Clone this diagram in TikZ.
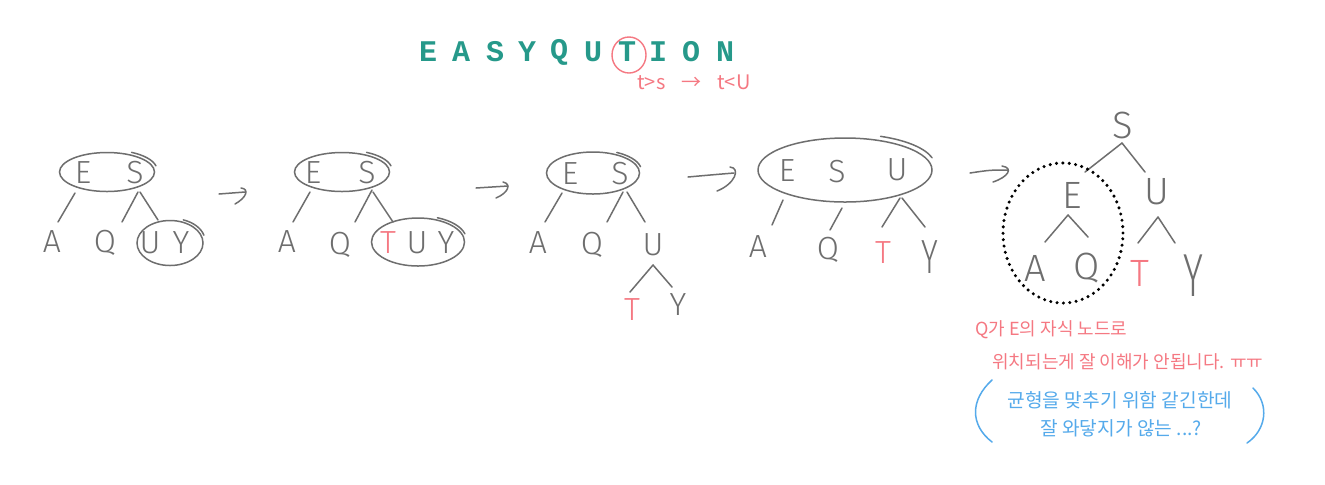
\documentclass[tikz,border=0pt]{standalone}
\usepackage{fontspec}
\setmainfont{Liberation Sans}
\newfontfamily\hand{Fira Sans Light}
\newfontfamily\kr{Noto Sans CJK KR}
\newfontfamily\titlefont{Liberation Mono}
\usetikzlibrary{shapes.geometric}
\definecolor{pen}{HTML}{6E6E6E}
\definecolor{titlec}{HTML}{26998A}
\definecolor{pinkc}{HTML}{F57882}
\definecolor{bluec}{HTML}{55AAEB}
\begin{document}
\begin{tikzpicture}[x=0.5pt,y=-0.5pt,
  lt/.style={font=\hand\fontsize{16}{19}\selectfont, text=pen, inner sep=0pt},
  bt/.style={font=\hand\fontsize{19}{22}\selectfont, text=pen, inner sep=0pt},
  br/.style={draw=pen, line width=0.75pt, line cap=round, line join=round},
  ell/.style={ellipse, draw=pen, line width=0.75pt, inner sep=0pt},
  ttl/.style={font=\titlefont\fontsize{15}{17}\selectfont, text=titlec, inner sep=0pt},
  kpink/.style={font=\kr\fontsize{9}{11}\selectfont, text=pinkc, inner sep=0pt, anchor=west},
  kblue/.style={font=\kr\fontsize{9.6}{11}\selectfont, text=bluec, inner sep=0pt},
  pinkline/.style={draw=pinkc, line width=0.7pt, line cap=round},
  blueline/.style={draw=bluec, line width=0.75pt, line cap=round}]
\fill[white] (0,0) rectangle (1325,484);
\useasboundingbox (0,0) rectangle (1325,484);

% title
\foreach \l/\xx [count=\i] in {E/428,A/461,S/495,Y/527,Q/559,U/593,T/627,I/658,O/691,N/725}
  \node[ttl] (t\i) at (\xx,52) {\textbf{\l}};
\node[ellipse, pinkline, minimum width=17pt, minimum height=18pt, inner sep=0pt] (tc) at (629,55) {};
\node[font=\kr\fontsize{10}{12}\selectfont, text=pinkc, inner sep=0pt, anchor=west] (tnote) at (637,82) {t>s\hspace{8pt}→\hspace{8pt}t<U};

% ---------- tree 1
\node[ell, minimum width=47.5pt, minimum height=19.5pt] (e1) at (107,172) {};
\draw[br] ([shift={(2,-2)}]e1.center) ++(-62:48 and 20) arc[start angle=-62, end angle=-12, x radius=48, y radius=20];
\node[lt] (E1) at (83,173) {E};
\node[lt] (S1) at (135,173) {S};
\node[lt] (A1) at (52,242) {A};
\node[lt] (Q1) at (105,243) {Q};
\node[ell, minimum width=33pt, minimum height=22.5pt] (u1) at (170,243) {};
\draw[br] ([shift={(2,-2)}]u1.center) ++(-70:33 and 22.5) arc[start angle=-70, end angle=-15, x radius=33, y radius=22.5];
\node[lt] (U1) at (150,243) {U};
\node[lt] (Y1) at (181,243) {Y};
\draw[br] ([shift={(-32,21)}]e1.center) -- ([shift={(6,-20)}]A1.center);
\draw[br] ([shift={(31,20)}]e1.center) -- ([shift={(17,-21)}]Q1.center);
\draw[br] ([shift={(33,20)}]e1.center) -- ([shift={(-12,-23)}]u1.center);

% arrow 1
\coordinate (a1s) at (219,194);
\coordinate (a1e) at (245,192);
\coordinate (a1t) at (241,188);
\coordinate (a1h) at (235,204);
\draw[br] (a1s) -- (a1e);
\draw[br] (a1t) .. controls (250,189) and (246,198) .. (a1h);

% ---------- tree 2
\node[ell, minimum width=47.5pt, minimum height=19.5pt] (e2) at (342,172) {};
\draw[br] ([shift={(2,-2)}]e2.center) ++(-62:48 and 20) arc[start angle=-62, end angle=-12, x radius=48, y radius=20];
\node[lt] (E2) at (313,173) {E};
\node[lt] (S2) at (367,173) {S};
\node[lt] (A2) at (287,242) {A};
\node[lt] (Q2) at (340,245) {Q};
\node[ell, minimum width=46.5pt, minimum height=24pt] (u2) at (418,242) {};
\draw[br] ([shift={(2,-2)}]u2.center) ++(-68:46.5 and 24) arc[start angle=-68, end angle=-15, x radius=46.5, y radius=24];
\node[lt, text=pinkc] (T2) at (388,243) {T};
\node[lt] (U2) at (417,243) {U};
\node[lt] (Y2) at (446,243) {Y};
\draw[br] ([shift={(-32,20)}]e2.center) -- ([shift={(6,-20)}]A2.center);
\draw[br] ([shift={(30,18)}]e2.center) -- ([shift={(15,-23)}]Q2.center);
\draw[br] ([shift={(31,20)}]e2.center) -- ([shift={(-25,-20)}]u2.center);

% arrow 2
\coordinate (a2s) at (476,188);
\coordinate (a2e) at (508,186);
\coordinate (a2t) at (503,182);
\coordinate (a2h) at (496,198);
\draw[br] (a2s) -- (a2e);
\draw[br] (a2t) .. controls (512,184) and (508,193) .. (a2h);

% ---------- tree 3
\node[ell, minimum width=46.5pt, minimum height=21pt] (e3) at (593,173) {};
\draw[br] ([shift={(2,-2)}]e3.center) ++(-62:46.5 and 21) arc[start angle=-62, end angle=-12, x radius=46.5, y radius=21];
\node[lt] (E3) at (570,174) {E};
\node[lt] (S3) at (620,174) {S};
\node[lt] (A3) at (538,243) {A};
\node[lt] (Q3) at (592,245) {Q};
\node[lt] (U3) at (653,245) {U};
\node[lt, text=pinkc] (T3) at (632,310) {T};
\node[lt] (Y3) at (678,305) {Y};
\draw[br] ([shift={(-31,20)}]e3.center) -- ([shift={(7,-21)}]A3.center);
\draw[br] ([shift={(30,19)}]e3.center) -- ([shift={(15,-23)}]Q3.center);
\draw[br] ([shift={(34,19)}]e3.center) -- ([shift={(-8,-23)}]U3.center);
\draw[br] ([shift={(0,20)}]U3.center) -- ([shift={(-2,-18)}]T3.center);
\draw[br] ([shift={(0,20)}]U3.center) -- ([shift={(-6,-18)}]Y3.center);

% arrow 3
\coordinate (a3s) at (688,177);
\coordinate (a3e) at (734,173);
\coordinate (a3t) at (730,167);
\coordinate (a3h) at (717,191);
\draw[br] (a3s) .. controls (710,175) .. (a3e);
\draw[br] (a3t) .. controls (741,168) and (735,184) .. (a3h);

% ---------- tree 4
\node[ell, minimum width=87pt, minimum height=32pt] (e4) at (845,170) {};
\draw[br] ([shift={(3,-4)}]e4.center) ++(-68:87 and 32) arc[start angle=-68, end angle=-15, x radius=87, y radius=32];
\node[lt] (E4) at (787,171) {E};
\node[lt] (S4) at (837,172) {S};
\node[lt] (U4) at (897,170) {U};
\node[lt] (A4) at (758,247) {A};
\node[lt] (Q4) at (828,250) {Q};
\node[lt, text=pinkc] (T4) at (883,253) {T};
\node[lt] (Y4) at (930,257) {\scalebox{1}[1.5]{Y}};
\draw[br] ([shift={(-62,30)}]e4.center) -- ([shift={(14,-22)}]A4.center);
\draw[br] ([shift={(-3,38)}]e4.center) -- ([shift={(2,-20)}]Q4.center);
\draw[br] ([shift={(55,28)}]e4.center) -- ([shift={(-1,-26)}]T4.center);
\draw[br] ([shift={(57,28)}]e4.center) -- ([shift={(-5,-30)}]Y4.center);

% arrow 4
\coordinate (a4s) at (970,173);
\coordinate (a4e) at (1008,170);
\coordinate (a4t) at (1002,166);
\coordinate (a4h) at (993,182);
\draw[br] (a4s) .. controls (990,170) .. (a4e);
\draw[br] (a4t) .. controls (1014,168) and (1008,177) .. (a4h);

% ---------- tree 5
\node[bt] (S5) at (1123,125) {S};
\node[bt] (E5) at (1072,195) {E};
\node[bt] (U5) at (1157,192) {U};
\node[bt] (A5) at (1035,268) {A};
\node[bt] (Q5) at (1087,268) {Q};
\node[bt, text=pinkc] (T5) at (1140,273) {T};
\node[bt] (Y5) at (1193,276) {\scalebox{1}[1.6]{Y}};
\draw[br] ([shift={(-1,18)}]S5.center) -- ([shift={(13,-23)}]E5.center);
\draw[br] ([shift={(-1,18)}]S5.center) -- ([shift={(-12,-20)}]U5.center);
\draw[br] ([shift={(-4,20)}]E5.center) -- ([shift={(10,-26)}]A5.center);
\draw[br] ([shift={(-4,20)}]E5.center) -- ([shift={(1,-31)}]Q5.center);
\draw[br] ([shift={(1,25)}]U5.center) -- ([shift={(-2,-30)}]T5.center);
\draw[br] ([shift={(1,25)}]U5.center) -- ([shift={(-18,-33)}]Y5.center);
\node[ellipse, draw=black, line width=1.7pt, line cap=round, dash pattern=on 0pt off 3.2pt,
      minimum width=60pt, minimum height=70pt, inner sep=0pt] (dot) at (1063,233) {};

% ---------- notes
\node[kpink] (k1) at (975,330) {Q가 E의 자식 노드로};
\node[kpink] (k2) at (992,362) {위치되는게 잘 이해가 안됩니다. ㅠㅠ};
\node[kblue] (k3) at (1120,400) {균형을 맞추기 위함 같긴한데};
\node[kblue] (k4) at (1121,428) {잘 와닿지가 않는 ...?};
\draw[blueline] (992,380) .. controls (970,400) and (970,425) .. (992,442);
\draw[blueline] (1253,388) .. controls (1270,405) and (1266,430) .. (1247,443);
\end{tikzpicture}
\end{document}
